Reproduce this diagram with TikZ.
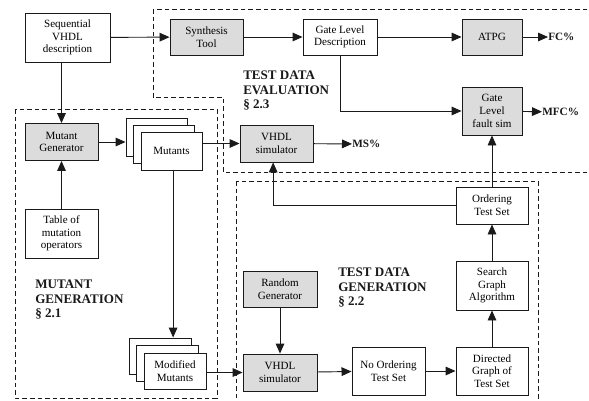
\documentclass[tikz,border=0pt]{standalone}
\usepackage{fontspec}
\setmainfont{Liberation Serif}
\usetikzlibrary{arrows.meta, positioning}
\definecolor{ink}{HTML}{1A1A1A}
\definecolor{shade}{HTML}{DCDCDC}
\tikzset{
  sz/.style 2 args = {minimum width=#1*0.75pt, minimum height=#2*0.75pt},
  box/.style   = {draw=ink, line width=0.7pt, fill=white, inner sep=1pt,
                  align=center, font=\fontsize{8.3}{9.5}\selectfont},
  gbox/.style  = {box, fill=shade},
  arr/.style   = {-{Triangle[length=7.5pt, width=6.5pt]}, line width=0.7pt, ink},
  zone/.style  = {draw=ink, line width=0.7pt, dash pattern=on 3.5pt off 2.2pt},
  title/.style = {font=\fontsize{9.8}{10.6}\selectfont\bfseries, align=left,
                  anchor=north west, inner sep=0pt, text=ink},
  outl/.style  = {font=\fontsize{8.4}{10}\selectfont\bfseries, anchor=west,
                  inner sep=0pt, text=ink},
}

\begin{document}
\begin{tikzpicture}[x=0.75pt, y=-0.75pt]
  \clip (0,0) rectangle (589,400);

  % --- dashed zones ---
  \draw[zone] (153,9) -- (153,97) -- (223,97) -- (223,172) -- (610,172) -- (610,9) -- cycle;
  \draw[zone] (15,109) rectangle (217,398);
  \draw[zone] (236,181) rectangle (538,420);

  % --- top row: synthesis path ---
  \node[box, sz={85}{49}]  (seq)   at (67.5,37.5) {Sequential\\VHDL\\description};
  \node[gbox, sz={73}{36}] (synth) at (206.5,37)  {Synthesis\\Tool};
  \node[box, sz={74}{36}]  (gate)  at (340,37)    {Gate Level\\Description};
  \node[gbox, sz={60}{36}] (atpg)  at (492,37)    {ATPG};
  \node[gbox, sz={60}{48}] (fsim)  at (492,111)   {Gate\\Level\\fault sim};
  \node[outl] (fc)  at (548,37)  {FC\%};
  \node[outl] (mfc) at (542,112) {MFC\%};

  % --- mutant generation ---
  \node[gbox, sz={73}{37}] (mgen)  at (61.5,142)  {Mutant\\Generator};
  \node[box, sz={73}{49}]  (table) at (61.5,233.5) {Table of\\mutation\\operators};
  \node[box, sz={61}{38}]  (mut3)  at (156.5,137) {};
  \node[box, sz={61}{38}]  (mut2)  at (164,144)   {};
  \node[box, sz={61}{38}]  (mut1)  at (171.5,151) {Mutants};
  \node[box, sz={62}{36}]  (mod3)  at (160,356)   {};
  \node[box, sz={62}{36}]  (mod2)  at (167.5,363.5) {};
  \node[box, sz={62}{36}]  (mod1)  at (175,371)   {Modified\\Mutants};

  % --- simulators ---
  \node[gbox, sz={73}{37}] (vsim)  at (276.5,143.5) {VHDL\\simulator};
  \node[outl] (ms) at (352,144) {MS\%};

  % --- test data generation ---
  \node[gbox, sz={74}{36}] (rnd)   at (280,289)   {Random\\Generator};
  \node[gbox, sz={74}{37}] (vsim2) at (280,372.5) {VHDL\\simulator};
  \node[box, sz={73}{48}]  (noord) at (388.5,371) {No Ordering\\Test Set};
  \node[box, sz={72}{48}]  (dgraph) at (492,371)  {Directed\\Graph of\\Test Set};
  \node[box, sz={72}{49}]  (search) at (492,285.5) {Search\\Graph\\Algorithm};
  \node[box, sz={72}{37}]  (order)  at (492,205.5) {Ordering\\Test Set};

  % --- arrows ---
  \draw[arr] (seq)   -- (synth);
  \draw[arr] (synth) -- (gate);
  \draw[arr] (gate)  -- (atpg);
  \draw[arr] (atpg)  -- (fc);
  \draw[arr] (gate.south) |- (fsim);
  \draw[arr] (fsim)  -- (mfc);
  \draw[arr] (seq.south -| mgen) -- (mgen);
  \draw[arr] (table) -- (mgen);
  \draw[arr] (mgen)  -- (mut3.west |- mgen);
  \draw[arr] (mut1.east |- vsim) -- (vsim);
  \draw[arr] (vsim)  -- (ms);
  \draw[arr] ([xshift=1.2pt]mut1.south) -- ([xshift=1.2pt]mut1.south |- mod3.north);
  \draw[arr] (mod1.east |- vsim2) -- (vsim2);
  \draw[arr] (rnd)   -- (vsim2);
  \draw[arr] (vsim2) -- (noord);
  \draw[arr] (noord) -- (dgraph);
  \draw[arr] (dgraph) -- (search);
  \draw[arr] (search) -- (order);
  \draw[arr] (order) -- (fsim);
  \draw[arr] (order.west) -| ([xshift=-2.5pt]vsim.south);

  % labels
  \node[title] (evl) at (243,71)  {TEST DATA\\EVALUATION\\\S\ 2.3};
  \node[title] (mgl) at (35,280)  {MUTANT\\GENERATION\\\S\ 2.1};
  \node[title] (tgl) at (338,268) {TEST DATA\\GENERATION\\\S\ 2.2};

\end{tikzpicture}
\end{document}
